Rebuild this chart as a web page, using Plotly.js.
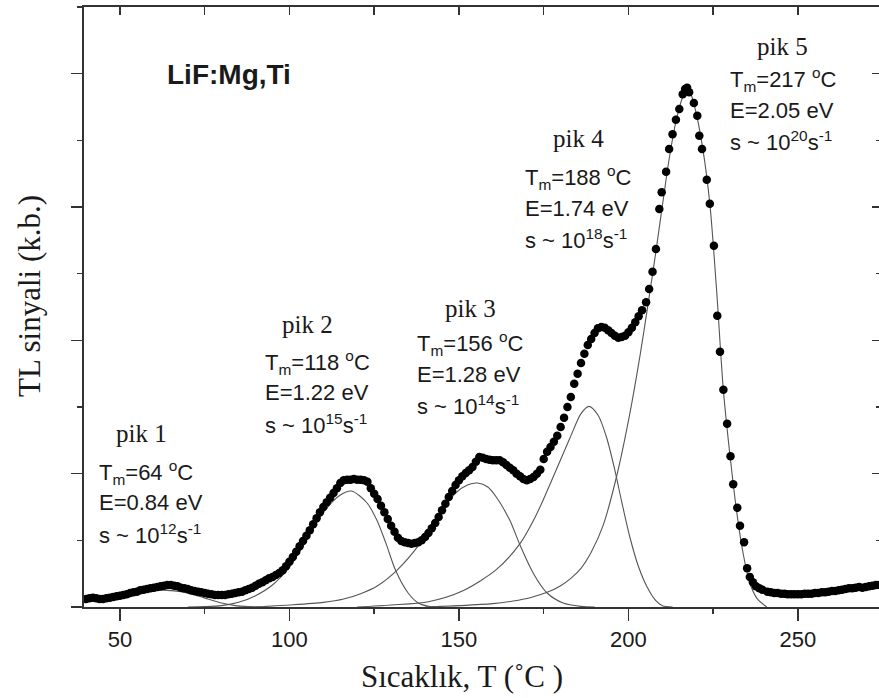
<!DOCTYPE html>
<html>
<head>
<meta charset="utf-8">
<script src="https://cdn.plot.ly/plotly-3.0.1.min.js"></script>
<style>html,body{margin:0;padding:0;background:#fff;}#chart{width:879px;height:698px;}</style>
</head>
<body>
<div id="chart"></div>
<script>
// ---- measured TL glow curve (temperature in deg C, signal in arbitrary units) ----
var tempC = [
  40,41,42,43,44,45,46,47,48,49,50,51,52,53,54,55,56,57,58,59,
  60,61,62,63,64,65,66,67,68,69,70,71,72,73,74,75,76,77,78,79,
  80,81,82,83,84,85,86,87,88,89,90,91,92,93,94,95,96,97,98,99,
  100,101,102,103,104,105,106,107,108,109,110,111,112,113,114,115,116,117,118,119,
  120,121,122,123,124,125,126,127,128,129,130,131,132,133,134,135,136,137,138,139,
  140,141,142,143,144,145,146,147,148,149,150,151,152,153,154,155,156,157,158,159,
  160,161,162,163,164,165,166,167,168,169,170,171,172,173,174,175,176,177,178,179,
  180,181,182,183,184,185,186,187,188,189,190,191,192,193,194,195,196,197,198,199,
  200,201,202,203,204,
  205.2,206.1,207.1,208.1,209.1,209.8,211.1,212.0,213.0,214.0,215.0,216.0,216.7,217.3,217.9,
  219.3,220.3,220.9,221.7,223.1,224.0,225.2,226.2,227.0,228.0,229.1,230.1,230.9,232.1,232.9,
  234.1,235.0,235.8,236.7,237.6,238.6,239.5,
  241,242,243,244,245,246,247,248,249,250,251,252,253,254,255,256,257,258,259,260,
  261,262,263,264,265,266,267,268,269,270,271,272,273,274
];
var tlSignal = [
  0.12,0.13,0.14,0.13,0.12,0.12,0.13,0.14,0.15,0.16,0.17,0.18,0.19,0.21,0.22,0.23,0.25,0.26,0.27,0.28,
  0.29,0.30,0.31,0.32,0.33,0.33,0.32,0.31,0.29,0.28,0.27,0.25,0.24,0.23,0.22,0.21,0.20,0.19,0.18,0.18,
  0.18,0.18,0.19,0.20,0.21,0.22,0.23,0.25,0.27,0.29,0.32,0.35,0.37,0.40,0.43,0.45,0.48,0.51,0.55,0.61,
  0.68,0.75,0.83,0.91,0.99,1.07,1.15,1.24,1.33,1.42,1.50,1.57,1.64,1.71,1.78,1.86,1.90,1.91,1.91,1.92,
  1.91,1.91,1.90,1.88,1.78,1.70,1.62,1.52,1.42,1.32,1.22,1.13,1.04,0.99,0.97,0.96,0.95,0.96,0.97,1.00,
  1.05,1.11,1.18,1.26,1.35,1.45,1.55,1.65,1.74,1.83,1.90,1.96,2.01,2.05,2.10,2.18,2.25,2.24,2.22,2.21,
  2.20,2.20,2.20,2.17,2.13,2.09,2.05,2.00,1.96,1.92,1.90,1.92,1.95,2.00,2.06,2.22,2.33,2.40,2.48,2.57,
  2.70,2.84,3.00,3.15,3.35,3.50,3.66,3.80,3.93,4.02,4.11,4.18,4.20,4.19,4.15,4.11,4.07,4.04,4.05,4.07,
  4.12,4.19,4.27,4.36,4.45,
  4.57,4.77,5.03,5.37,5.97,6.22,6.53,6.87,7.09,7.31,7.47,7.69,7.77,7.79,7.72,
  7.56,7.37,7.07,6.87,6.41,6.05,5.42,4.37,3.83,3.26,2.75,2.26,1.84,1.49,1.22,
  0.97,0.58,0.45,0.37,0.31,0.28,0.26,
  0.23,0.22,0.21,0.21,0.20,0.20,0.19,0.19,0.19,0.19,0.19,0.20,0.20,0.20,0.21,0.21,0.22,0.22,0.23,0.24,
  0.24,0.25,0.26,0.27,0.28,0.28,0.29,0.30,0.29,0.30,0.31,0.32,0.33,0.33
];

// ---- fitted glow peaks ----
var peak1T = [35,40,45,50,55,60,64,68,72,76,80,84,88,92];
var peak1Y = [0.06,0.09,0.12,0.16,0.21,0.245,0.25,0.23,0.18,0.12,0.06,0.02,0.005,0];

var peak2T = [70,75,80,85,90,95,100,105,110,115,118.3,122.9,125.8,128.5,131.3,135,138,141,145];
var peak2Y = [0,0.005,0.02,0.07,0.17,0.33,0.60,1.00,1.42,1.68,1.74,1.56,1.30,0.95,0.55,0.21,0.06,0.01,0];

var peak3T = [90,100,110,116,121,126,131.7,138.5,144,149,152.5,155.5,158.5,161,165,168,172,176,180.7,186,190];
var peak3Y = [0,0.03,0.07,0.12,0.20,0.32,0.55,0.95,1.38,1.71,1.83,1.86,1.80,1.65,1.30,0.93,0.50,0.21,0.06,0.01,0];

var peak4T = [120,130,141,151,161,168,172.5,176,182.7,186,188.3,191,193.5,196,198,200.4,203,205.5,208,210,213];
var peak4Y = [0,0.03,0.08,0.24,0.56,0.95,1.35,1.74,2.53,2.90,3.01,2.88,2.55,2.05,1.58,1.05,0.60,0.30,0.10,0.02,0];

var peak5T = [140,150,160,166,171,176,180,183,186,189,192.5,196.6,200.4,203.5,205.8,208,210,212,214,216,217.2,218.5,
              220,222,224,226,228,230,232,233.8,235.8,237.9,240.8];
var peak5Y = [0,0.02,0.05,0.09,0.14,0.22,0.32,0.43,0.58,0.82,1.22,1.98,2.90,3.80,4.55,5.30,6.02,6.72,7.28,7.65,7.76,7.68,
              7.40,6.85,6.05,4.75,3.25,2.25,1.40,0.81,0.36,0.13,0];

var xTicks = [50,100,150,200,250];
var xTickText = ['50','100','150','200','250'];

// ---- labels ----
var peakNames = ['pik 1','pik 2','pik 3','pik 4','pik 5'];
var tmLabels = ['T<sub>m</sub>=64 <sup>o</sup>C','T<sub>m</sub>=118 <sup>o</sup>C','T<sub>m</sub>=156 <sup>o</sup>C','T<sub>m</sub>=188 <sup>o</sup>C','T<sub>m</sub>=217 <sup>o</sup>C'];
var eLabels = ['E=0.84 eV','E=1.22 eV','E=1.28 eV','E=1.74 eV','E=2.05 eV'];
var sLabels = ['s ~ 10<sup>12</sup>s<sup>-1</sup>','s ~ 10<sup>15</sup>s<sup>-1</sup>','s ~ 10<sup>14</sup>s<sup>-1</sup>','s ~ 10<sup>18</sup>s<sup>-1</sup>','s ~ 10<sup>20</sup>s<sup>-1</sup>'];

// ---- layout geometry (pixels) ----
var W = 879, H = 698, ML = 84, MR = 0, MT = 7, MB = 91;
var XR = [39.4, 273.9], YR = [0, 9];
function pxX(p){ return (p - ML) / (W - ML - MR); }
function pxY(p){ return (H - MB - p) / (H - MT - MB); }

// block positions: [pik center x, pik baseline, params left x, Tm baseline, E baseline, s baseline]
var blockPos = [
  [141, 442, 97, 480, 510, 542],
  [307, 333, 263, 370, 400, 432],
  [470, 317, 415, 351, 382, 413],
  [578, 147, 523, 185, 216, 247],
  [782, 55, 728, 87, 118, 149]
];

var serif = 'Liberation Serif, Times New Roman, serif';
var sans = 'Liberation Sans, Arial, sans-serif';
var ink = '#1a1a1a';
var annotations = [];
function addText(txt, xp, basePx, fam, size, anchor){
  annotations.push({
    text: txt, xref: 'paper', yref: 'paper',
    x: pxX(xp), y: pxY(basePx - 0.35*size),
    xanchor: anchor, yanchor: 'middle', showarrow: false,
    font: {family: fam, size: size, color: ink}
  });
}
for (var i = 0; i < 5; i++) {
  var b = blockPos[i];
  addText(peakNames[i], b[0], b[1], serif, 25, 'center');
  addText(tmLabels[i], b[2], b[3], sans, 22, 'left');
  addText(eLabels[i], b[2], b[4], sans, 22, 'left');
  addText(sLabels[i], b[2], b[5], sans, 22, 'left');
}
addText('<b>LiF:Mg,Ti</b>', 165, 84, sans, 28, 'left');
addText('Sıcaklık, T (˚C )', 462, 687, serif, 31, 'center');
annotations.push({
  text: 'TL sinyali (k.b.)', xref: 'paper', yref: 'paper',
  x: pxX(29), y: pxY(296), xanchor: 'center', yanchor: 'middle',
  textangle: -90, showarrow: false,
  font: {family: serif, size: 31, color: ink}
});

var fitStyle = {color: '#555555', width: 1.1, shape: 'spline', smoothing: 0.8};
var traces = [
  {x: peak1T, y: peak1Y, mode: 'lines', line: fitStyle, hoverinfo: 'skip'},
  {x: peak2T, y: peak2Y, mode: 'lines', line: fitStyle, hoverinfo: 'skip'},
  {x: peak3T, y: peak3Y, mode: 'lines', line: fitStyle, hoverinfo: 'skip'},
  {x: peak4T, y: peak4Y, mode: 'lines', line: fitStyle, hoverinfo: 'skip'},
  {x: peak5T, y: peak5Y, mode: 'lines', line: fitStyle, hoverinfo: 'skip'},
  {x: tempC, y: tlSignal, mode: 'markers', marker: {color: '#000', size: 8.5}, hoverinfo: 'skip'},
  {x: [tempC[0]], y: [tlSignal[0]], xaxis: 'x2', yaxis: 'y2', mode: 'markers', marker: {opacity: 0}, hoverinfo: 'skip'}
];

var axColor = '#333';
var layout = {
  width: W, height: H,
  margin: {l: ML, r: MR, t: MT, b: MB, pad: 0},
  paper_bgcolor: '#fff', plot_bgcolor: '#fff',
  showlegend: false,
  xaxis: {
    range: XR, showgrid: false, zeroline: false,
    showline: true, linewidth: 2, linecolor: axColor,
    ticks: 'outside', ticklen: 12, tickwidth: 1.5, tickcolor: axColor,
    tickmode: 'array', tickvals: xTicks, ticktext: xTickText,
    tickfont: {family: sans, size: 22, color: ink},
    minor: {tickmode: 'linear', tick0: 25, dtick: 50, ticks: 'outside', ticklen: 5, tickwidth: 1.5, tickcolor: axColor, showgrid: false}
  },
  yaxis: {
    range: YR, showgrid: false, zeroline: false,
    showline: true, linewidth: 2, linecolor: axColor,
    ticks: 'outside', ticklen: 11, tickwidth: 1.5, tickcolor: axColor,
    tick0: 0, dtick: 2, showticklabels: false,
    minor: {tick0: 0, dtick: 1, ticks: 'outside', ticklen: 5, tickwidth: 1.5, tickcolor: axColor, showgrid: false}
  },
  xaxis2: {
    overlaying: 'x', side: 'top', range: XR, showgrid: false, zeroline: false,
    showline: true, linewidth: 2, linecolor: axColor,
    ticks: 'inside', ticklen: 8, tickwidth: 1.5, tickcolor: axColor,
    tick0: 0, dtick: 25, showticklabels: false
  },
  yaxis2: {
    overlaying: 'y', side: 'right', range: YR, showgrid: false, zeroline: false,
    showline: false,
    ticks: 'inside', ticklen: 7, tickwidth: 1.5, tickcolor: axColor,
    tick0: 0, dtick: 2, showticklabels: false,
    minor: {tick0: 0, dtick: 1, ticks: 'inside', ticklen: 3, tickwidth: 1.5, tickcolor: axColor, showgrid: false}
  },
  annotations: annotations
};

Plotly.newPlot('chart', traces, layout, {displayModeBar: false, staticPlot: true});
</script>
</body>
</html>
